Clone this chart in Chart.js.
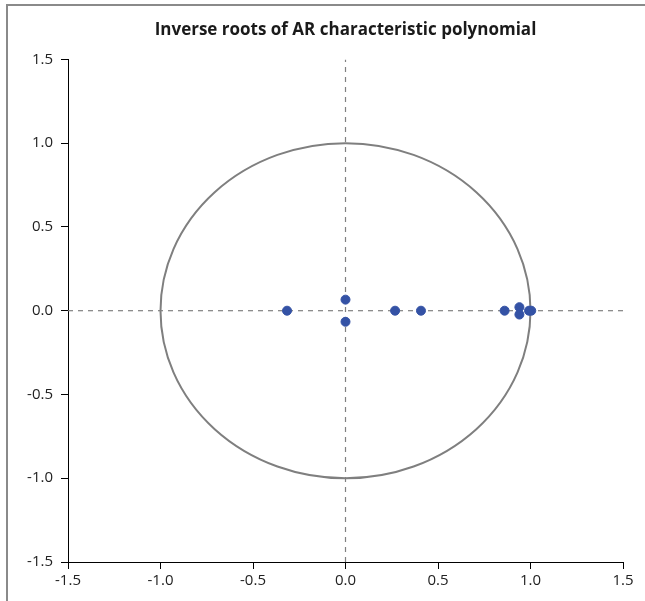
<!DOCTYPE html>
<html>
<head>
<meta charset="utf-8">
<script src="https://cdn.jsdelivr.net/npm/chart.js@4.4.1/dist/chart.umd.min.js"></script>
<style>
    html, body { margin: 0; padding: 0; background: #fff; overflow: hidden; }
    canvas { display: block; }
</style>
</head>
<body>
<canvas id="rootsChart" width="645" height="601"></canvas>
<script>
const rootsReal = [-0.316, 0.0, 0.0, 0.268, 0.408, 0.860, 0.940, 0.940, 0.992, 1.004];
const rootsImag = [0.0, 0.066, -0.066, 0.0, 0.0, 0.0, 0.021, -0.023, 0.0, 0.0];

// Axis ticks
const tickValues = [-1.5, -1.0, -0.5, 0.0, 0.5, 1.0, 1.5];
const tickLabels = ['-1.5', '-1.0', '-0.5', '0.0', '0.5', '1.0', '1.5'];

// Reference lines and unit circle
const zeroLineX = [-1.5, 1.5];
const zeroLineY = [-1.5, 1.5];
const circleRadius = 1;

const rootPoints = rootsReal.map((x, i) => ({ x: x, y: rootsImag[i] }));

// Gray frame on the top and left edges, like the exported picture
const framePlugin = {
    id: 'frame',
    beforeDraw(chart) {
        const ctx = chart.ctx;
        ctx.save();
        ctx.strokeStyle = '#8a8a8a';
        ctx.lineWidth = 2;
        ctx.beginPath();
        ctx.moveTo(7, chart.height);
        ctx.lineTo(7, 5);
        ctx.lineTo(chart.width, 5);
        ctx.stroke();
        ctx.restore();
    }
};

// Draw the unit circle from the chart's own scales
const unitCirclePlugin = {
    id: 'unitCircle',
    beforeDatasetsDraw(chart) {
        const xs = chart.scales.x;
        const ys = chart.scales.y;
        const cx = xs.getPixelForValue(0);
        const cy = ys.getPixelForValue(0);
        const rx = xs.getPixelForValue(circleRadius) - cx;
        const ry = cy - ys.getPixelForValue(circleRadius);
        const ctx = chart.ctx;
        ctx.save();
        ctx.strokeStyle = '#7f7f7f';
        ctx.lineWidth = 2;
        ctx.beginPath();
        ctx.ellipse(cx, cy, rx, ry, 0, 0, Math.PI * 2);
        ctx.stroke();
        ctx.restore();
    }
};

function setTicks(scale) {
    scale.ticks = tickValues.map(v => ({ value: v }));
}

const tickFont = { family: 'Open Sans', size: 15 };

new Chart(document.getElementById('rootsChart'), {
    type: 'scatter',
    data: {
        datasets: [
            {
                label: 'roots',
                data: rootPoints,
                backgroundColor: '#3452a5',
                borderColor: '#3452a5',
                pointRadius: 4.5,
                order: 0
            },
            {
                label: 'h0',
                type: 'line',
                data: zeroLineX.map(x => ({ x: x, y: 0 })),
                borderColor: '#808080',
                borderWidth: 1.2,
                borderDash: [5, 5],
                pointRadius: 0,
                order: 2
            },
            {
                label: 'v0',
                type: 'line',
                data: zeroLineY.map(y => ({ x: 0, y: y })),
                borderColor: '#808080',
                borderWidth: 1.2,
                borderDash: [5, 5],
                pointRadius: 0,
                order: 2
            }
        ]
    },
    options: {
        responsive: false,
        animation: false,
        layout: { padding: { left: 0, right: 22, top: 0, bottom: 0 } },
        plugins: {
            legend: { display: false },
            tooltip: { enabled: false },
            title: {
                display: true,
                fullSize: false,
                text: 'Inverse roots of AR characteristic polynomial',
                color: '#1a1a1a',
                font: { family: 'Open Sans', size: 17, weight: 'bold' },
                padding: { top: 20, bottom: 19 }
            }
        },
        scales: {
            x: {
                type: 'linear',
                min: -1.5,
                max: 1.5,
                afterBuildTicks: setTicks,
                afterFit: scale => { scale.height = 39; },
                border: { display: true, color: '#000', width: 1 },
                grid: { display: true, drawOnChartArea: false, drawTicks: true, tickLength: 7, color: '#000' },
                ticks: {
                    color: '#222',
                    font: tickFont,
                    padding: 3,
                    maxRotation: 0,
                    callback: (v, i) => tickLabels[i]
                }
            },
            y: {
                type: 'linear',
                min: -1.5,
                max: 1.5,
                afterBuildTicks: setTicks,
                afterFit: scale => { scale.width = 68; },
                border: { display: true, color: '#000', width: 1 },
                grid: { display: true, drawOnChartArea: false, drawTicks: true, tickLength: 7, color: '#000' },
                ticks: {
                    color: '#222',
                    font: tickFont,
                    padding: 8,
                    callback: (v, i) => tickLabels[i]
                }
            }
        }
    },
    plugins: [framePlugin, unitCirclePlugin]
});
</script>
</body>
</html>
